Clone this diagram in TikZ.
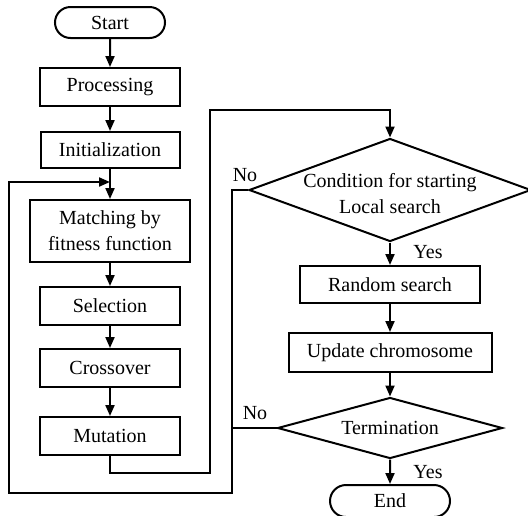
\documentclass[tikz,border=0pt]{standalone}
\usepackage{fontspec}
\setmainfont{Liberation Serif}
\usetikzlibrary{arrows.meta}
\usetikzlibrary{shapes}

\begin{document}
\begin{tikzpicture}[x=0.5pt, y=-0.5pt, line width=1pt, >={Triangle[length=5.5pt,width=4.5pt]},
	box/.style={fill=white, draw=black, shape=rectangle, inner sep=1pt, align=center, font=\fontsize{10}{13}\selectfont},
	terminal/.style={fill=white, draw=black, shape=rounded rectangle, inner sep=1pt},
	decision/.style={fill=white, draw=black, shape=diamond, inner sep=0pt},
	lbl/.style={inner sep=0pt, font=\fontsize{10}{13}\selectfont}]
	\useasboundingbox (0,0) rectangle (528,515);

	\node [terminal, minimum width=57pt, minimum height=15.5pt] (start) at (110, 22.5) {Start};
	\node [box, minimum width=70pt, minimum height=19pt] (proc) at (110, 87) {Processing};
	\node [box, minimum width=69.5pt, minimum height=18pt] (init) at (110, 150) {Initialization};
	\node [box, minimum width=80pt, minimum height=31pt] (match) at (110, 231) {Matching by\\fitness function};
	\node [box, minimum width=70pt, minimum height=19pt] (sel) at (110, 306) {Selection};
	\node [box, minimum width=70pt, minimum height=19pt] (cross) at (110, 368) {Crossover};
	\node [box, minimum width=70pt, minimum height=19pt] (mut) at (110, 436) {Mutation};

	\node [decision, minimum width=141pt, minimum height=51.5pt,
		label={[lbl, align=center, yshift=-2pt]center:Condition for starting\\Local search}] (cond) at (390, 190) {};
	\node [box, minimum width=90pt, minimum height=18.5pt] (rand) at (390, 284.5) {Random search};
	\node [box, minimum width=101.5pt, minimum height=19.5pt] (upd) at (390, 352.5) {Update chromosome};
	\node [decision, minimum width=112.5pt, minimum height=30.5pt,
		label={[lbl]center:Termination}] (term) at (390, 428) {};
	\node [terminal, minimum width=62pt, minimum height=16pt] (endn) at (390, 501) {End};

	\coordinate (loopA) at (210, 473);
	\coordinate (loopB) at (210, 110);
	\coordinate (noline) at (232, 493);
	\coordinate (back) at (9, 182);
	\coordinate (joint) at (110, 182);

	\draw [->] (start) to (proc);
	\draw [->] (proc) to (init);
	\draw [->] (init) to (match);
	\draw [->] (match) to (sel);
	\draw [->] (sel) to (cross);
	\draw [->] (cross) to (mut);
	\draw [->] (mut.south) |- (loopA) -- (loopB) -| (cond.north);
	\draw [->] (cond.south) to (rand);
	\draw [->] (rand) to (upd);
	\draw [->] (upd) to (term.north);
	\draw [->] (term.south) to (endn);

	\draw [->] (cond.west) -| (noline) -| (back) -- (joint);
	\draw (term.west) -- (term.west -| noline);

	\node [lbl] (no1) at (245, 175) {No};
	\node [lbl] (no2) at (255, 413) {No};
	\node [lbl] (yes1) at (428, 252) {Yes};
	\node [lbl] (yes2) at (428, 472) {Yes};
\end{tikzpicture}
\end{document}
